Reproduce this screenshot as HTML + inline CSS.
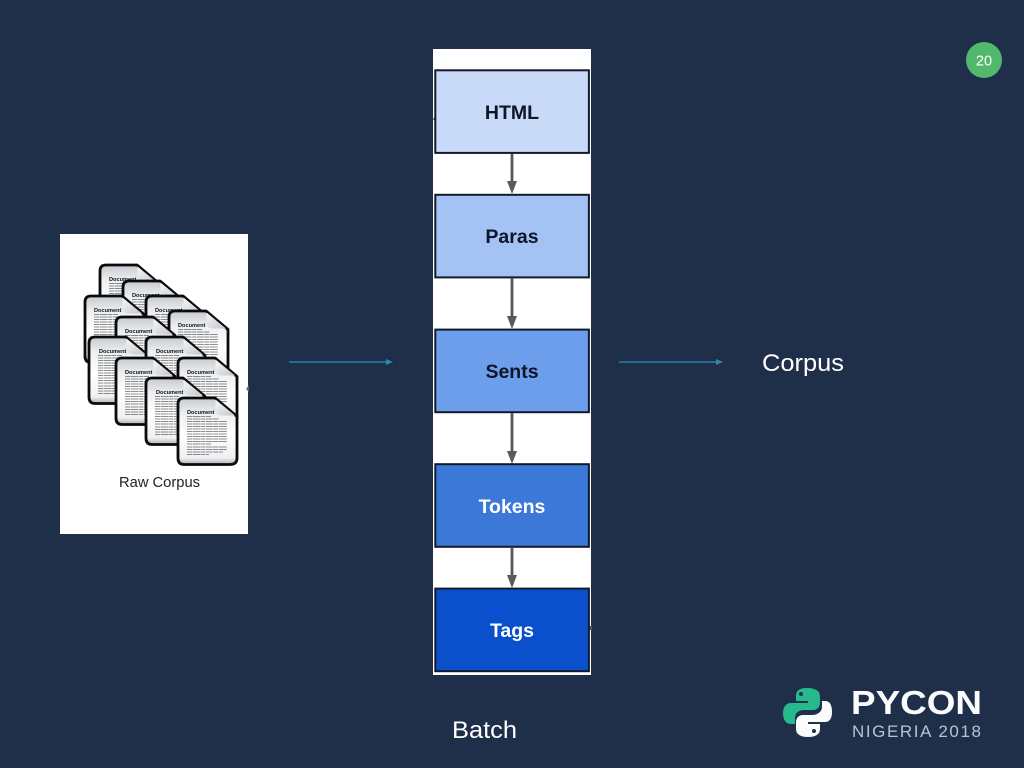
<!DOCTYPE html>
<html><head><meta charset="utf-8"><style>
html,body{margin:0;padding:0;background:#1f2f4a;width:1024px;height:768px;overflow:hidden}
svg{display:block}
text{font-family:"Liberation Sans",sans-serif}
</style></head><body>
<svg width="1024" height="768" viewBox="0 0 1024 768" xmlns="http://www.w3.org/2000/svg">
<defs>
<linearGradient id="pg" x1="0" y1="0" x2="0" y2="1">
<stop offset="0" stop-color="#c6cacf"/><stop offset="0.22" stop-color="#eceef0"/><stop offset="0.55" stop-color="#ffffff"/><stop offset="0.9" stop-color="#eff0f2"/><stop offset="1" stop-color="#a9adb2"/>
</linearGradient>
<linearGradient id="fg" x1="0" y1="0" x2="1" y2="1">
<stop offset="0" stop-color="#f6f7f8"/><stop offset="1" stop-color="#c3c6ca"/>
</linearGradient>
<g id="d">
<path d="M7,1 H38 L60,19.500 V61 Q60,67.500 53,67.500 H7 Q1,67.500 1,61 V7 Q1,1 7,1 Z" fill="url(#pg)" stroke="#0a0a0a" stroke-width="2.800" stroke-linejoin="round"/>
<path d="M38.500,2.500 V12 Q38.500,18.500 45,18.500 H58 Z" fill="url(#fg)"/>
<g stroke="#333" stroke-width="0.85" stroke-dasharray="5 0.6 8 0.5 4 0.6 7 0.5" opacity="0.72">
<path d="M10,19.500 H34M10,22 H42M10,24.500 H50M10,27 H50M10,29.500 H50M10,32 H50M10,34.500 H50M10,37 H50M10,39.500 H50M10,42 H50M10,44.500 H50M10,47 H34M10,50 H50M10,52.500 H50M10,55 H46M10,57.500 H32"/>
</g>
</g>
</defs>

<rect width="1024" height="768" fill="#1f2f4a"/>

<!-- Raw corpus panel -->
<rect x="60" y="234" width="188" height="300" fill="#fff"/>
<use href="#d" x="99" y="264"/><text x="109" y="281" font-size="5.600" font-weight="bold" fill="#111">Document</text>
<use href="#d" x="122" y="280"/><text x="132" y="297" font-size="5.600" font-weight="bold" fill="#111">Document</text>
<use href="#d" x="84" y="295"/><text x="94" y="312" font-size="5.600" font-weight="bold" fill="#111">Document</text>
<use href="#d" x="145" y="295"/><text x="155" y="312" font-size="5.600" font-weight="bold" fill="#111">Document</text>
<use href="#d" x="168" y="310"/><text x="178" y="327" font-size="5.600" font-weight="bold" fill="#111">Document</text>
<use href="#d" x="115" y="316"/><text x="125" y="333" font-size="5.600" font-weight="bold" fill="#111">Document</text>
<use href="#d" x="88" y="336"/><text x="99" y="353" font-size="5.600" font-weight="bold" fill="#111">Document</text>
<use href="#d" x="145" y="336"/><text x="156" y="353" font-size="5.600" font-weight="bold" fill="#111">Document</text>
<use href="#d" x="115" y="357"/><text x="125" y="374" font-size="5.600" font-weight="bold" fill="#111">Document</text>
<use href="#d" x="177" y="357"/><text x="187" y="374" font-size="5.600" font-weight="bold" fill="#111">Document</text>
<use href="#d" x="145" y="377"/><text x="156" y="394" font-size="5.600" font-weight="bold" fill="#111">Document</text>
<use href="#d" x="177" y="397"/><text x="187" y="414" font-size="5.600" font-weight="bold" fill="#111">Document</text>
<text x="119" y="487" font-size="14.500" fill="#222" textLength="81" lengthAdjust="spacingAndGlyphs">Raw Corpus</text>
<path d="M246,389 L249,385 V392 Z" fill="#5d6675"/>

<!-- Pipeline -->
<rect x="433" y="49" width="158" height="626" fill="#fff"/>
<path d="M433,120 L436,113 V120 Z" fill="#555"/>
<rect x="589" y="626" width="3" height="4" fill="#555"/>
<g stroke="#121a2a" stroke-width="2">
<rect x="435.300" y="70.300" width="153.600" height="82.600" fill="#c9daf8"/>
<rect x="435.300" y="194.800" width="153.600" height="82.600" fill="#a4c2f4"/>
<rect x="435.300" y="329.600" width="153.600" height="82.600" fill="#6d9eeb"/>
<rect x="435.300" y="464.200" width="153.600" height="82.600" fill="#3c78d8"/>
<rect x="435.300" y="588.600" width="153.600" height="82.600" fill="#0a50cd"/>
</g>
<g stroke="#595959" stroke-width="2.800">
<path d="M512,154 V184M512,278 V318M512,413 V453M512,548 V578"/>
</g>
<g fill="#595959">
<path d="M507,181 H517 L512,194 Z"/>
<path d="M507,316 H517 L512,329 Z"/>
<path d="M507,451 H517 L512,464 Z"/>
<path d="M507,575 H517 L512,588 Z"/>
</g>
<g font-size="19.500" font-weight="bold" text-anchor="middle">
<text x="512" y="119" fill="#0d1526">HTML</text>
<text x="512" y="243" fill="#0d1526">Paras</text>
<text x="512" y="378" fill="#0d1526">Sents</text>
<text x="512" y="513" fill="#fff">Tokens</text>
<text x="512" y="637" fill="#fff">Tags</text>
</g>

<!-- Teal arrows -->
<g stroke="#2b7fa6" stroke-width="1.500"><path d="M289,362 H388M619,362 H718"/></g>
<g fill="#2f86ad"><path d="M386,359 L393,362 L386,365 Z"/><path d="M716,359 L723,362 L716,365 Z"/></g>

<text x="762" y="371" font-size="24.500" fill="#fff" textLength="82" lengthAdjust="spacingAndGlyphs">Corpus</text>
<text x="452" y="738" font-size="24.500" fill="#fff" textLength="65" lengthAdjust="spacingAndGlyphs">Batch</text>

<!-- Slide number -->
<circle cx="984" cy="60" r="18" fill="#52b96c"/>
<text x="984" y="65.500" font-size="14.500" fill="#fff" text-anchor="middle">20</text>

<!-- Logo -->
<path d="M807,688 C799,688 796,691 796,696 V701 H808 V703 H791 C786,703 783,707 783,713 C783,720 786,724 791,724 H795 V718 C795,713 799,710 804,710 H813 C817,710 820,707 820,703 V696 C820,691 815,688 807,688 Z" fill="#26b98c"/>
<circle cx="801" cy="694" r="2" fill="#1f2f4a"/>
<path d="M808,737 C816,737 820,734 820,729 V724 H808 V722 H825 C830,722 832,718 832,712 C832,705 830,701 825,701 H822 V707 C822,712 817,715 812,715 H803 C799,715 796,718 796,722 V729 C796,734 800,737 808,737 Z" fill="#fbfcfd"/>
<circle cx="814" cy="731" r="2" fill="#1f2f4a"/>
<text x="851" y="714" font-size="33" font-weight="bold" fill="#fbfcfd" textLength="131" lengthAdjust="spacingAndGlyphs">PYCON</text>
<text x="852" y="737" font-size="17" fill="#b9c3cf" textLength="129" lengthAdjust="spacing">NIGERIA 2018</text>
</svg>
</body></html>
